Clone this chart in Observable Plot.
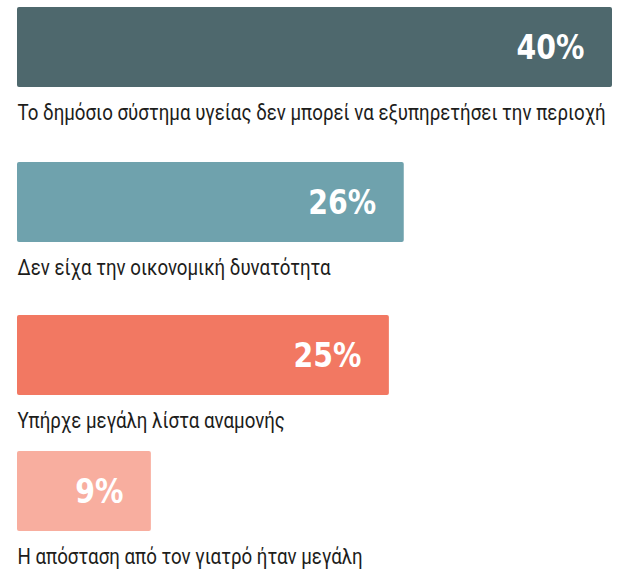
<!DOCTYPE html>
<html>
<head>
<meta charset="utf-8">
<script src="https://cdn.jsdelivr.net/npm/d3@7"></script>
<script src="https://cdn.jsdelivr.net/npm/@observablehq/plot@0.6"></script>
<style>
  html, body { margin: 0; padding: 0; background: #fff; }
  #chart svg { display: block; }
</style>
</head>
<body>
<div id="chart"></div>
<script>
// Data
const categories = [
  "Το δημόσιο σύστημα υγείας δεν μπορεί να εξυπηρετήσει την περιοχή",
  "Δεν είχα την οικονομική δυνατότητα",
  "Υπήρχε μεγάλη λίστα αναμονής",
  "Η απόσταση από τον γιατρό ήταν μεγάλη"
];
const values = [40, 26, 25, 9];
const valueLabels = ["40%", "26%", "25%", "9%"];

// Styles / layout
const barColors = ["#4e686d", "#6fa2ad", "#f27862", "#f8ae9f"];
const rowHeights = [155, 153, 136, 126];
const labelSqueeze = 0.85;   // horizontal condensing of the category font
const valueSqueeze = 0.86;   // horizontal condensing of the value font

// condense a text element horizontally (keeps its anchor)
function squeeze(t, k) {
  const w = t.getComputedTextLength();
  t.setAttribute("textLength", (w * k).toFixed(1));
  t.setAttribute("lengthAdjust", "spacingAndGlyphs");
}

const container = document.getElementById("chart");
categories.forEach((cat, i) => {
  const row = [{category: cat, value: values[i], label: valueLabels[i]}];
  const svg = Plot.plot({
    width: 622,
    height: rowHeights[i],
    marginLeft: 17,
    marginRight: 10,
    marginTop: 7,
    marginBottom: rowHeights[i] - 87,
    style: {background: "#fff", overflow: "visible"},
    x: {domain: [0, 40], axis: null},
    y: {domain: [cat], axis: null, padding: 0},
    marks: [
      Plot.barX(row, {x: "value", y: "category", fill: barColors[i], rx: 2}),
      Plot.text(row, {
        x: "value", y: "category", text: "label",
        textAnchor: "end", dx: -28, dy: 1,
        fill: "#fff", fontSize: 33, fontWeight: "bold",
        fontFamily: "DejaVu Sans"
      }),
      Plot.text(row, {
        x: 0, y: "category", text: "category",
        textAnchor: "start", lineAnchor: "bottom", dy: 72,
        fill: "#1d1d1b", fontSize: 22,
        fontFamily: "Roboto"
      })
    ]
  });
  container.appendChild(svg);
  svg.querySelectorAll("text").forEach(t => {
    if (valueLabels.includes(t.textContent)) squeeze(t, valueSqueeze);
    else if (categories.includes(t.textContent)) squeeze(t, labelSqueeze);
  });
});
</script>
</body>
</html>
